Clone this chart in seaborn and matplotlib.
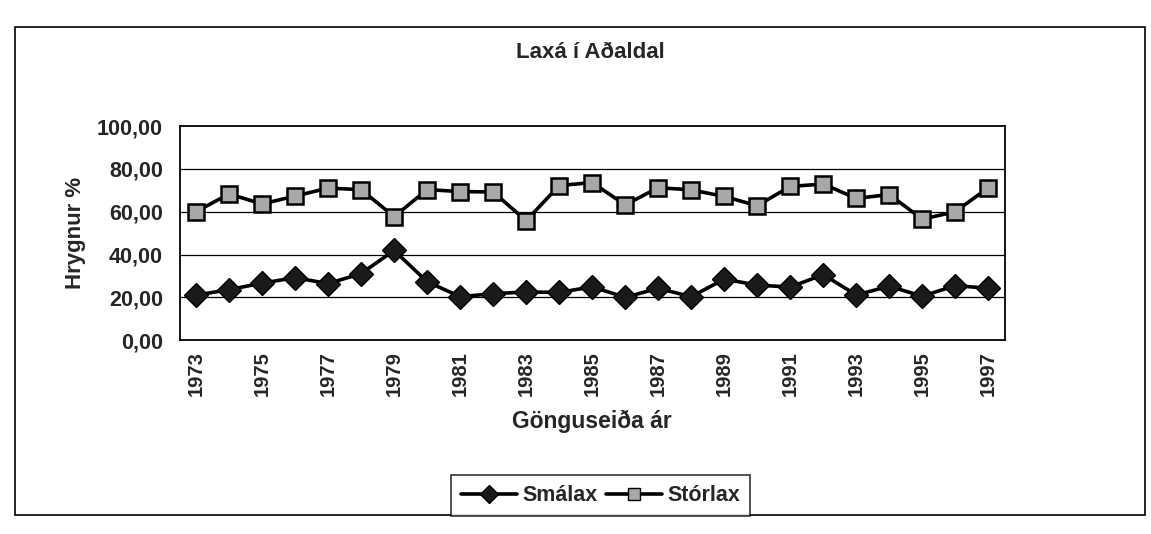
import numpy as np
import pandas as pd
import seaborn as sns
import matplotlib.pyplot as plt
from matplotlib.lines import Line2D
from matplotlib.patches import Rectangle

years = list(range(1973, 1998))
smalax = [21.0, 23.6, 26.6, 29.2, 26.4, 31.1, 41.9, 27.3, 20.3, 21.7, 22.5, 22.3, 24.9,
          20.0, 24.2, 20.3, 28.5, 25.7, 24.8, 30.6, 21.1, 25.2, 20.5, 25.5, 24.2]
storlax = [60.0, 68.3, 63.6, 67.3, 71.0, 70.3, 57.7, 70.3, 69.4, 69.2, 55.8, 72.2, 73.6,
           63.2, 71.2, 70.2, 67.1, 62.8, 71.8, 72.9, 66.2, 68.0, 56.5, 60.0, 71.2]
y_ticks = [0, 20, 40, 60, 80, 100]

sns.set_style("white")
plt.rcParams['font.family'] = ['Liberation Sans', 'DejaVu Sans']

fig = plt.figure(figsize=(11.51, 5.34), dpi=100)
ax = fig.add_axes([0.156, 0.363, 0.717, 0.401])

# outer chart frame
fig.patches.append(Rectangle((0.013, 0.035), 0.982, 0.915, transform=fig.transFigure,
                             fill=False, edgecolor='black', linewidth=1.2))

df = pd.DataFrame({"year": years, "Smálax": smalax, "Stórlax": storlax})

sns.lineplot(data=df, x="year", y="Smálax", ax=ax, color='black', lw=2.6,
             marker='D', markersize=12, markerfacecolor='#1a1a1a',
             markeredgecolor='black', markeredgewidth=1)
sns.lineplot(data=df, x="year", y="Stórlax", ax=ax, color='black', lw=2.6,
             marker='s', markersize=12, markerfacecolor='#a8a8a8',
             markeredgecolor='black', markeredgewidth=1.8)

ax.set_xlim(1972.5, 1997.5)
ax.set_ylim(0, 100)
ax.set_yticks(y_ticks)
ax.set_yticklabels([f"{v:.2f}".replace('.', ',') for v in y_ticks],
                   fontsize=15.5, fontweight='bold')
ax.set_xticks(years[::2])
ax.set_xticklabels([str(y) for y in years[::2]], rotation=90,
                   fontsize=14.5, fontweight='bold')
ax.set_xticks(np.arange(1972.5, 1998, 1), minor=True)
ax.tick_params(axis='x', which='major', length=0, pad=8)
ax.tick_params(axis='x', which='minor', length=6, width=1, direction='out', color='black')
ax.tick_params(axis='y', length=7, width=1, direction='out', color='black', pad=5)

for v in y_ticks[1:-1]:
    ax.axhline(v, color='black', lw=0.9, zorder=0)
for s in ax.spines.values():
    s.set_color('black')
    s.set_linewidth(1.3)

ax.set_xlabel("Gönguseiða ár", fontsize=16.5, fontweight='bold', labelpad=10)
ax.set_ylabel("Hrygnur %", fontsize=16, fontweight='bold', labelpad=8)
fig.text(0.513, 0.902, "Laxá í Aðaldal", ha='center', va='center',
         fontsize=16, fontweight='bold')

handles = [Line2D([], [], color='black', lw=2.6, marker='D', markersize=9,
                  markerfacecolor='#1a1a1a', markeredgecolor='black'),
           Line2D([], [], color='black', lw=2.6, marker='s', markersize=8,
                  markerfacecolor='#a8a8a8', markeredgecolor='black')]
leg = fig.legend(handles, ["Smálax", "Stórlax"], loc='center', ncol=2,
                 bbox_to_anchor=(0.522, 0.072), frameon=True, fancybox=False,
                 edgecolor='black', handlelength=2.6, columnspacing=0.4,
                 handletextpad=0.25, borderpad=0.45,
                 prop={'size': 15.5, 'weight': 'bold'})
leg.get_frame().set_linewidth(1.2)

fig.savefig("out.png", dpi=100, facecolor='white')
